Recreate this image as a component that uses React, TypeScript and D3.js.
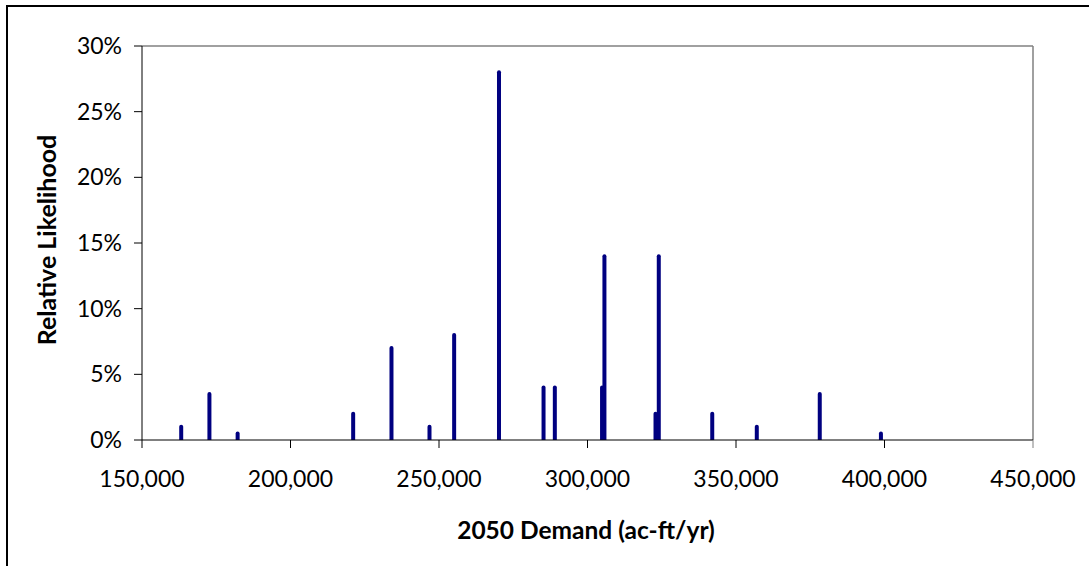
import React from "react";
import * as d3 from "d3";

const demand = [163200, 172700, 182200, 221100, 234000, 246800, 255100, 270200, 285200, 289000, 304900, 305700, 322900, 324000, 342000, 357000, 378200, 398800];
const likelihood = [0.01, 0.035, 0.005, 0.02, 0.07, 0.01, 0.08, 0.28, 0.04, 0.04, 0.04, 0.14, 0.02, 0.14, 0.02, 0.01, 0.035, 0.005];
const xTicks = [150000, 200000, 250000, 300000, 350000, 400000, 450000];
const yTicks = [0, 0.05, 0.1, 0.15, 0.2, 0.25, 0.3];

const W = 1089;
const H = 566;
const left = 142;
const right = 1033;
const top = 46;
const bottom = 440;
const font = "Lato, 'Open Sans', sans-serif";

export default function App() {
  const x = d3.scaleLinear().domain([150000, 450000]).range([left, right]);
  const y = d3.scaleLinear().domain([0, 0.3]).range([bottom, top]);
  const fmtX = d3.format(",");
  const fmtY = d3.format(".0%");
  return (
    <svg width={W} height={H} style={{ position: "absolute", left: 0, top: 0, background: "#fff" }}>
      <rect x={0} y={0} width={W} height={H} fill="#fff" />
      <rect x={7} y={6} width={1200} height={700} fill="none" stroke="#000" strokeWidth={2} />
      <defs>
        <clipPath id="plotclip">
          <rect x={left} y={top - 10} width={right - left} height={bottom - top + 10} />
        </clipPath>
      </defs>
      <line x1={left} x2={right} y1={top} y2={top} stroke="#808080" strokeWidth={1.5} />
      <line x1={right} x2={right} y1={top} y2={bottom} stroke="#808080" strokeWidth={1.5} />
      <g clipPath="url(#plotclip)">
        {demand.map((d, i) => (
          <line
            key={i}
            x1={x(d)}
            x2={x(d)}
            y1={y(0) + 4}
            y2={y(likelihood[i])}
            stroke="#000080"
            strokeWidth={4}
            strokeLinecap="round"
          />
        ))}
      </g>
      <line x1={left} x2={left} y1={top} y2={bottom} stroke="#000" strokeWidth={1} />
      <line x1={left} x2={right} y1={bottom} y2={bottom} stroke="#000" strokeWidth={1} />
      {yTicks.map((t) => (
        <g key={t}>
          <line x1={left - 8} x2={left} y1={y(t)} y2={y(t)} stroke="#000" strokeWidth={1} />
          <text x={left - 20} y={y(t)} dy="0.35em" textAnchor="end" fontFamily={font} fontSize={23} fill="#000">
            {fmtY(t)}
          </text>
        </g>
      ))}
      {xTicks.map((t) => (
        <g key={t}>
          <line x1={x(t)} x2={x(t)} y1={bottom} y2={bottom + 8} stroke={t === 450000 ? "#808080" : "#000"} strokeWidth={1} />
          <text x={x(t)} y={479} dy="0.35em" textAnchor="middle" fontFamily={font} fontSize={23} fill="#000">
            {fmtX(t)}
          </text>
        </g>
      ))}
      <text x={586} y={530} dy="0.35em" textAnchor="middle" fontFamily={font} fontSize={24.5} fontWeight="bold" fill="#000">
        2050 Demand (ac-ft/yr)
      </text>
      <text
        transform={`translate(47,${240}) rotate(-90)`}
        dy="0.35em"
        textAnchor="middle"
        fontFamily={font}
        fontSize={25}
        fontWeight="bold"
        fill="#000"
      >
        Relative Likelihood
      </text>
    </svg>
  );
}
